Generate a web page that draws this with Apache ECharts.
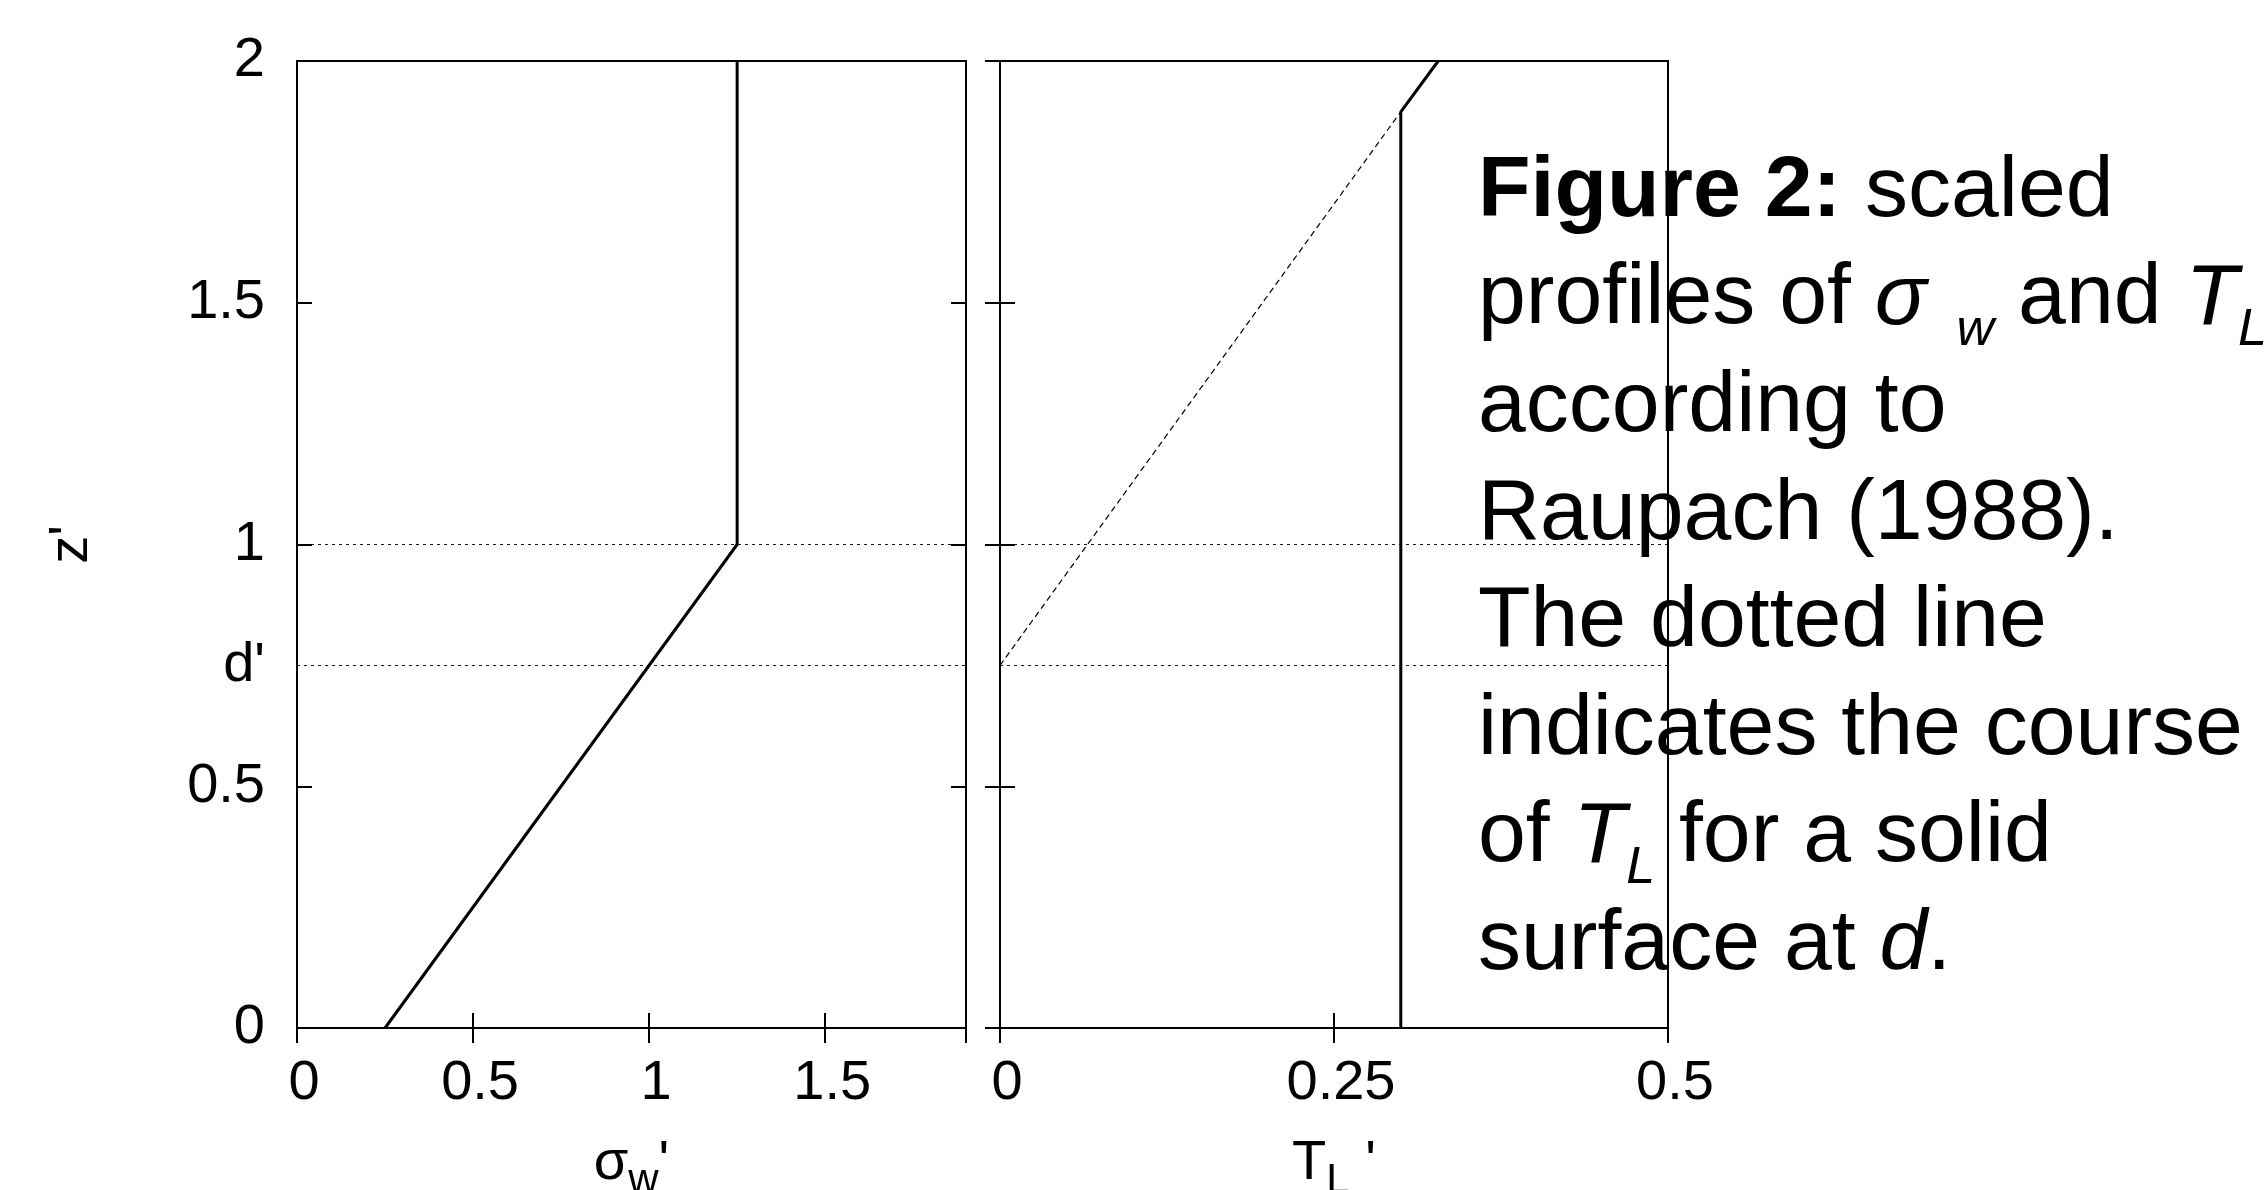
<!DOCTYPE html>
<html>
<head>
<meta charset="utf-8">
<script src="https://cdn.jsdelivr.net/npm/echarts@6/dist/echarts.min.js"></script>
<style>html,body{margin:0;padding:0;background:#fff}#c{width:2265px;height:1190px}</style>
</head>
<body>
<div id="c"></div>
<script>
// ---------- data ----------
// left panel: sigma_w' profile (x = sigma_w', y = z')
const sigmaW = [0.25, 1.25, 1.25];
const sigmaZ = [0, 1, 2];
// right panel: T_L' profile (solid)
const tlVal = [0.3, 0.3, 0.328];
const tlZ = [0, 1.895, 2];
// right panel: T_L' for solid surface at d (dashed)
const tlSolidVal = [0, 0.3];
const tlSolidZ = [0.75, 1.895];
// reference heights (dotted): canopy top and displacement height d'
const refLevels = [1, 0.75];
const dLevel = 0.75;
const dLabel = "d'";
// axis ranges / tick steps
const leftXMax = 1.9, leftXStep = 0.5;
const rightXMax = 0.5, rightXStep = 0.25;
const zMax = 2, zStep = 0.5;

const FONT = 'Liberation Sans';
const chart = echarts.init(document.getElementById('c'), null, {renderer: 'canvas'});

const tickStyle = {show: true, inside: true, length: 15, lineStyle: {color: '#000', width: 2}};
const noLine = {show: false};
const labelBase = {color: '#000', fontFamily: FONT, fontSize: 56};
const isMult = (v, s) => Math.abs(v / s - Math.round(v / s)) < 1e-9;

function xAx(grid, pos, max, step, withLabel, name) {
  const a = {
    type: 'value', gridIndex: grid, position: pos, min: 0, max: max, interval: step,
    axisLine: noLine, axisTick: tickStyle, splitLine: {show: false},
    axisLabel: withLabel ? Object.assign({}, labelBase, {
      margin: 28, padding: [0, 0, 0, 14],
      formatter: v => isMult(v, step) ? String(v) : ''
    }) : {show: false}
  };
  if (name) {
    a.name = name;
    a.nameLocation = 'middle';
    a.nameGap = 104;
    a.nameTextStyle = {
      color: '#000', fontFamily: FONT, fontSize: 56,
      rich: {
        m: {fontSize: 56, fontFamily: FONT, color: '#000', lineHeight: 64, verticalAlign: 'middle'},
        s: {fontSize: 42, fontFamily: FONT, color: '#000', lineHeight: 64, verticalAlign: 'middle', padding: [34, 0, 0, 0]}
      }
    };
  }
  return a;
}
function yAx(grid, pos, withLabel) {
  return {
    type: 'value', gridIndex: grid, position: pos, min: 0, max: zMax, interval: zStep,
    axisLine: noLine, axisTick: tickStyle, splitLine: {show: false},
    axisLabel: withLabel ? Object.assign({}, labelBase, {margin: 32}) : {show: false}
  };
}

const xAxes = [
  xAx(0, 'bottom', leftXMax, leftXStep, true, "{m|σ}{s|w}{m|'}"),
  xAx(0, 'top', leftXMax, leftXStep, false),
  xAx(1, 'bottom', rightXMax, rightXStep, true, "{m|T}{s|L}{m| '}"),
  xAx(1, 'top', rightXMax, rightXStep, false)
];
const yMain = yAx(0, 'left', true);
yMain.name = "z'";
yMain.nameLocation = 'middle';
yMain.nameRotate = 90;
yMain.nameGap = 197;
yMain.nameTextStyle = {color: '#000', fontFamily: FONT, fontSize: 56};
const yD = {
  type: 'value', gridIndex: 0, position: 'left', min: 0, max: zMax, interval: zStep / 2,
  axisLine: noLine, axisTick: {show: false}, splitLine: {show: false},
  axisLabel: Object.assign({}, labelBase, {margin: 32, formatter: v => Math.abs(v - dLevel) < 1e-9 ? dLabel : ''})
};
const yAxes = [yMain, yD, yAx(0, 'right', false), yAx(1, 'left', false), yAx(1, 'right', false)];

const zip = (xs, ys) => xs.map((x, i) => [x, ys[i]]);
const refMark = {
  silent: true, symbol: ['none', 'none'], label: {show: false},
  lineStyle: {color: '#000', width: 1.2, type: [3, 4], opacity: 0.9},
  data: refLevels.map(v => ({yAxis: v}))
};
const lineBase = {type: 'line', showSymbol: false, symbol: 'none', silent: true, animation: false};

// caption (text)
const captionLines = [
  [['b', 'Figure 2:'], ['n', ' scaled']],
  [['n', 'profiles of '], ['i', 'σ'], ['sw', 'w'], ['n', ' and '], ['i', 'T'], ['sub', 'L']],
  [['n', 'according to']],
  [['n', 'Raupach (1988).']],
  [['n', 'The dotted line']],
  [['n', 'indicates the course']],
  [['n', 'of '], ['i', 'T'], ['sub', 'L'], ['n', ' for a solid']],
  [['n', 'surface at '], ['i', 'd'], ['n', '.']]
];
const captionText = captionLines.map(l => l.map(([s, t]) => '{' + s + '|' + t + '}').join('')).join('\n');
const capBase = {fontFamily: FONT, fontSize: 86, lineHeight: 107.6, verticalAlign: 'middle', fill: '#000', color: '#000'};
const capRich = {
  n: Object.assign({}, capBase),
  b: Object.assign({}, capBase, {fontWeight: 'bold'}),
  i: Object.assign({}, capBase, {fontStyle: 'italic'}),
  sub: Object.assign({}, capBase, {fontSize: 52, fontStyle: 'italic', padding: [62, 0, 0, 0]}),
  sw: Object.assign({}, capBase, {fontSize: 52, fontStyle: 'italic', padding: [62, 0, 0, 30]})
};

chart.setOption({
  animation: false,
  backgroundColor: '#fff',
  grid: [
    {left: 297, top: 61, width: 669, height: 967, show: true, borderColor: '#000', borderWidth: 2,
     backgroundColor: 'transparent', containLabel: false, outerBoundsMode: 'none'},
    {left: 1000, top: 61, width: 668, height: 967, show: true, borderColor: '#000', borderWidth: 2,
     backgroundColor: 'transparent', containLabel: false, outerBoundsMode: 'none'}
  ],
  xAxis: xAxes,
  yAxis: yAxes,
  series: [
    Object.assign({}, lineBase, {
      xAxisIndex: 0, yAxisIndex: 0, data: zip(sigmaW, sigmaZ),
      lineStyle: {color: '#000', width: 3}, markLine: refMark, z: 3
    }),
    Object.assign({}, lineBase, {
      xAxisIndex: 2, yAxisIndex: 3, data: zip(tlVal, tlZ),
      lineStyle: {color: '#000', width: 3}, markLine: refMark, z: 3
    }),
    Object.assign({}, lineBase, {
      xAxisIndex: 2, yAxisIndex: 3, data: zip(tlSolidVal, tlSolidZ),
      lineStyle: {color: '#000', width: 1.2, type: [6, 4]}, z: 2
    })
  ],
  graphic: [{
    type: 'text', left: 1478, top: 149, z: 100, silent: true,
    style: {text: captionText, rich: capRich, fontFamily: FONT, fontSize: 86, fill: '#000', verticalAlign: 'top', align: 'left'}
  }]
});
</script>
</body>
</html>
